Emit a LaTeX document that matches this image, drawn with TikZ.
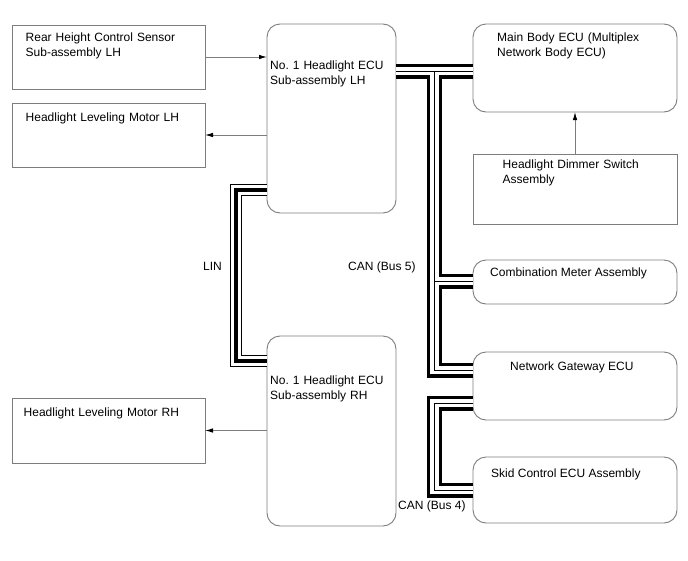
\documentclass[tikz,border=0pt]{standalone}
\usepackage{fontspec}
\setmainfont{Liberation Sans}
\usetikzlibrary{arrows.meta}
\definecolor{edgegray}{RGB}{125,125,125}
\frenchspacing
\begin{document}
\begin{tikzpicture}[x=1pt,y=-1pt,
  every node/.style={font=\fontsize{12}{15}\selectfont},
  sqbox/.style={draw=edgegray, line width=0.9pt, fill=white, inner sep=0pt, outer sep=0pt, anchor=north west},
  rdbox/.style={sqbox, rounded corners=13pt},
  lbl/.style={inner sep=0pt, anchor=base west},
  txt/.style={inner sep=0pt, anchor=base west, text width=#1, align=left},
  sig/.style={draw=edgegray, line width=0.9pt, -{Latex[length=8pt,width=4.5pt,color=black]}},
  canbus/.style={line width=15pt, draw=black, line join=miter,
    postaction={draw=white, line width=8.5pt},
    postaction={draw=black, line width=1pt}},
  linbus/.style={line width=11.5pt, draw=black, line join=miter,
    postaction={draw=white, line width=9.5pt},
    postaction={draw=black, line width=4pt}},
]
\useasboundingbox (0,0) rectangle (688,560);
\fill[white] (0,0) rectangle (688,560);

% boxes
\node[sqbox, minimum width=193pt, minimum height=64pt] (rhcs) at (12,25) {};
\node[sqbox, minimum width=193pt, minimum height=64pt] (lmlh) at (12,103) {};
\node[sqbox, minimum width=193pt, minimum height=65pt] (lmrh) at (12,398) {};
\node[rdbox, minimum width=129pt, minimum height=189pt] (lhecu) at (267,24) {};
\node[rdbox, minimum width=129pt, minimum height=190pt] (rhecu) at (267,336) {};
\node[rdbox, minimum width=204pt, minimum height=88pt] (mbecu) at (473,24) {};
\node[sqbox, minimum width=204pt, minimum height=70pt] (dimmer) at (473,154) {};
\node[rdbox, minimum width=204pt, minimum height=44pt] (meter) at (473,260) {};
\node[rdbox, minimum width=204pt, minimum height=68pt] (gw) at (473,352) {};
\node[rdbox, minimum width=204pt, minimum height=66pt] (skid) at (473,457) {};

% buses
\draw[canbus] (lhecu.east |- 0,71) -- (mbecu.west |- 0,71)
  (434.5,71) -- (434.5,370) -- (gw.west |- 0,370)
  (434.5,281) -- (meter.west |- 0,281);
\draw[canbus] (gw.west |- 0,403) -- (434.5,403) -- (434.5,490) -- (skid.west |- 0,490);
\draw[linbus] (lhecu.west |- 0,190) -- (236,190) -- (236,361) -- (rhecu.west |- 0,361);

% signal arrows
\draw[sig] (rhcs.east) -- (lhecu.west |- rhcs.east);
\draw[sig] (lhecu.west |- lmlh.east) -- (lmlh.east);
\draw[sig] (rhecu.west |- lmrh.east) -- (lmrh.east);
\draw[sig] (dimmer.north) -- (mbecu.south);

% texts
\node[txt=175pt] (rhcst) at (25.5,41.5) {Rear Height Control Sensor\\Sub-assembly LH};
\node[txt=175pt] (lmlht) at (25.5,121.5) {Headlight Leveling Motor LH};
\node[txt=175pt] (lmrht) at (23.5,416.5) {Headlight Leveling Motor RH};
\node[txt=125pt] (lhecut) at (270,69.5) {No. 1 Headlight ECU\\Sub-assembly LH};
\node[txt=125pt] (rhecut) at (270,384) {No. 1 Headlight ECU\\Sub-assembly RH};
\node[txt=175pt] (mbecut) at (497,41) {Main Body ECU (Multiplex\\Network Body ECU)};
\node[txt=170pt] (dimmert) at (502.5,168.3) {Headlight Dimmer Switch\\Assembly};
\node[lbl] (metert) at (490,276.7) {Combination Meter Assembly};
\node[lbl] (gwt) at (510,370) {Network Gateway ECU};
\node[lbl] (skidt) at (491,477) {Skid Control ECU Assembly};
\node[lbl] (linl) at (203,270) {LIN};
\node[lbl] (can5l) at (348,270) {CAN (Bus 5)};
\node[lbl] (can4l) at (398,509) {CAN (Bus 4)};
\end{tikzpicture}
\end{document}
